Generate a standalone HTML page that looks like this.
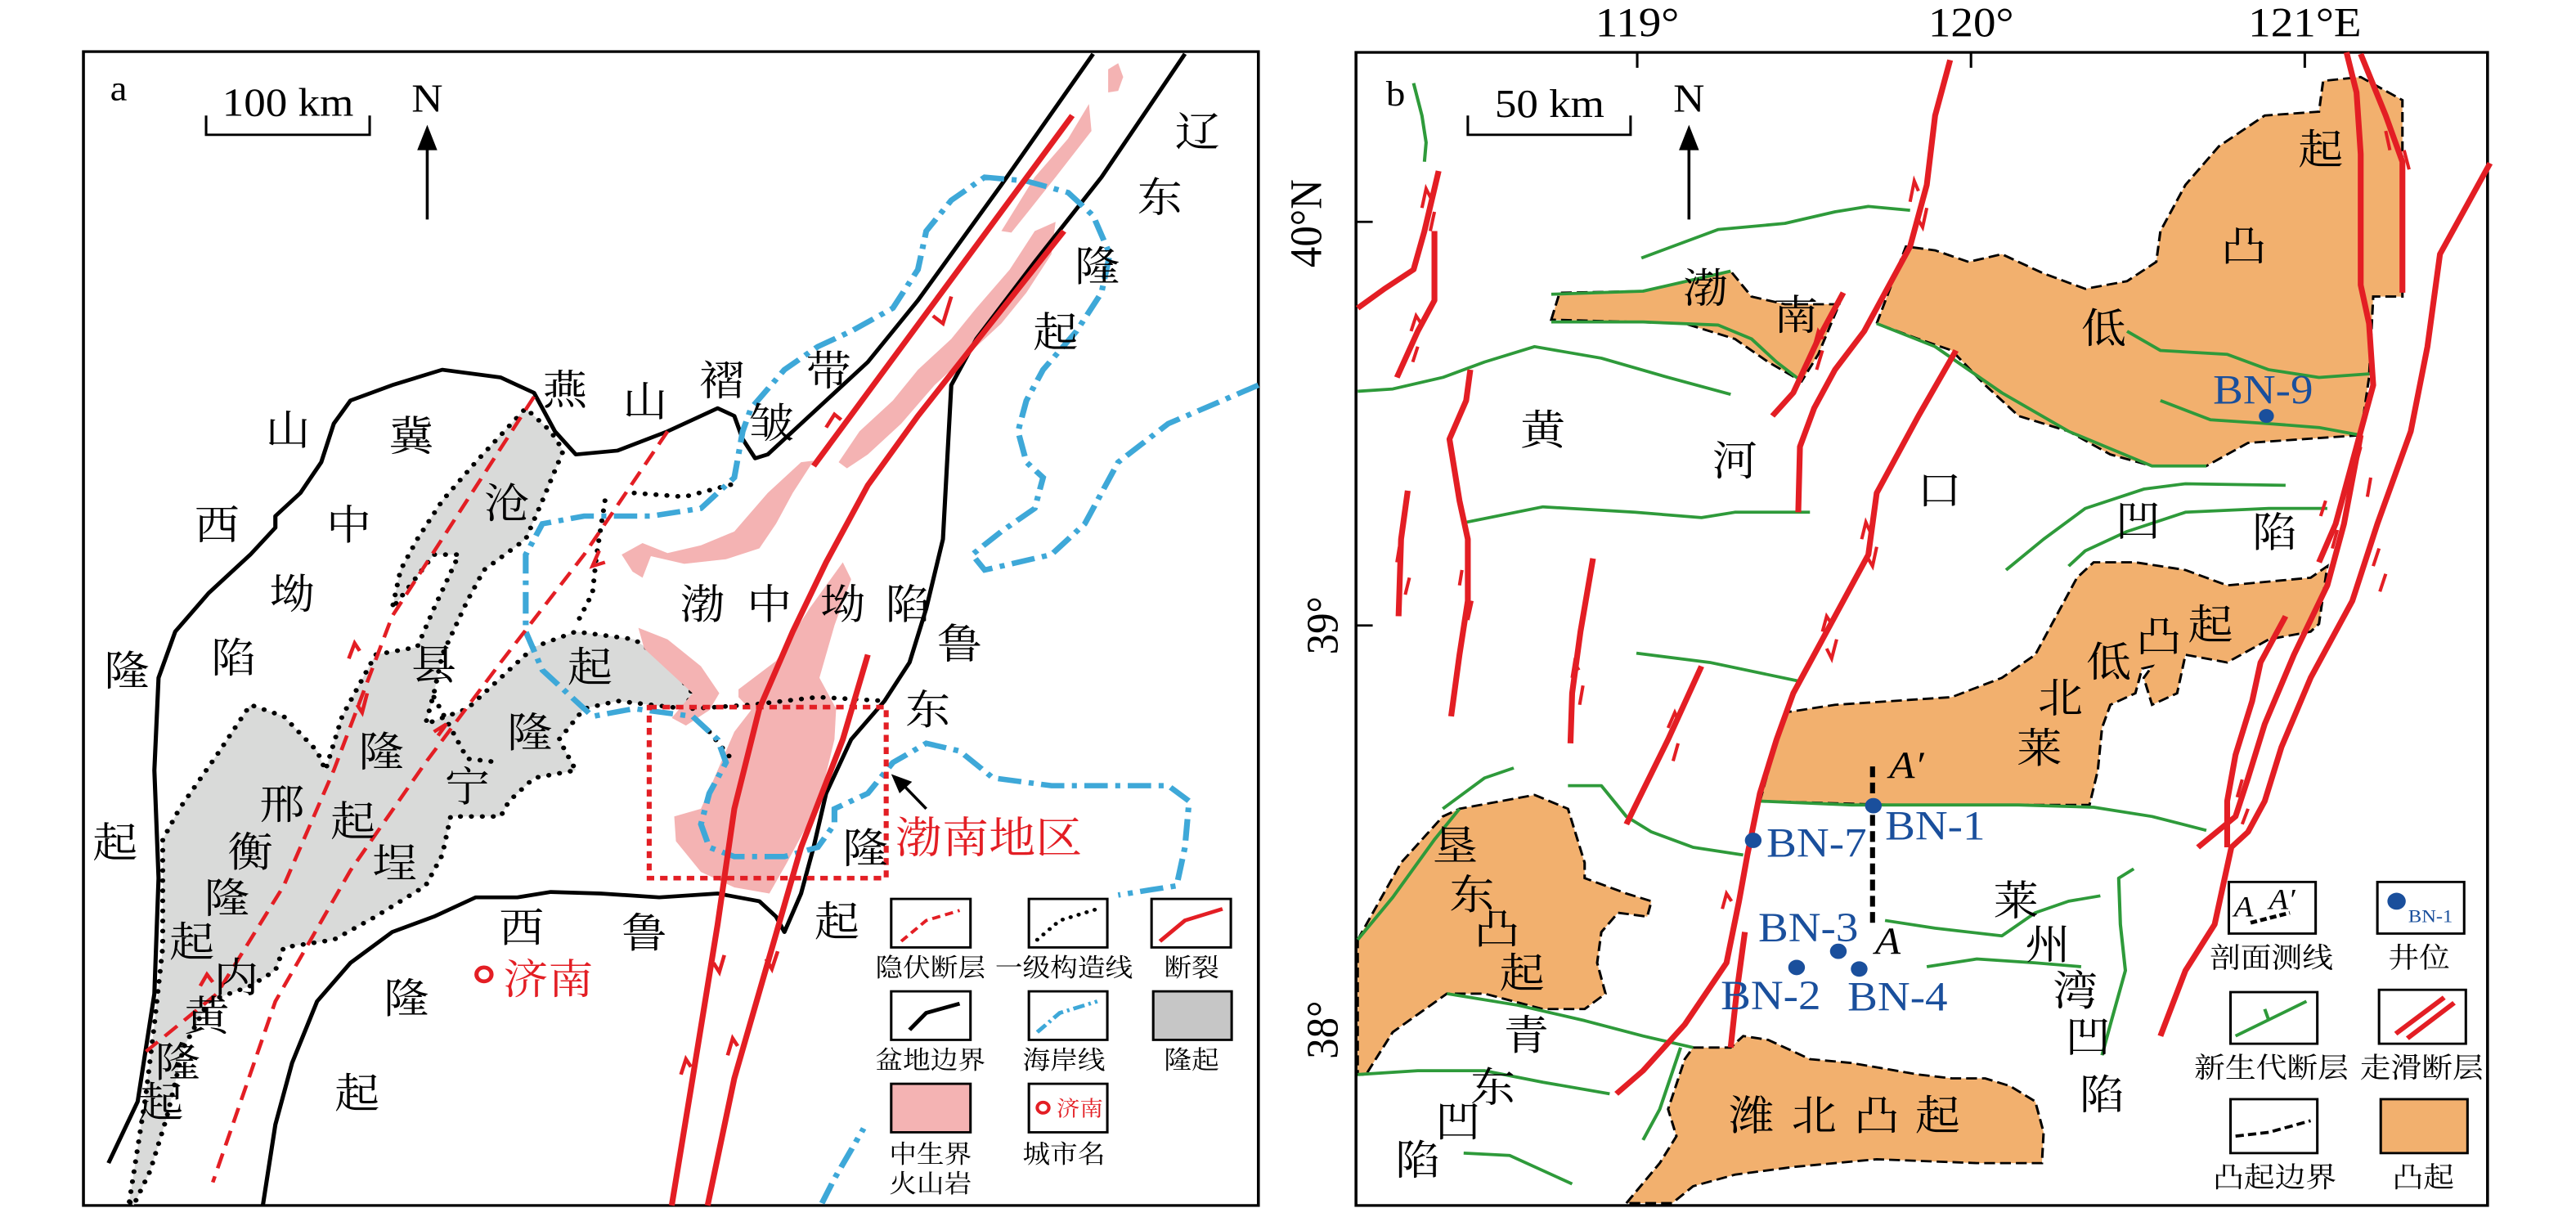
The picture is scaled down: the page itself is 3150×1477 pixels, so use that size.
<!DOCTYPE html>
<html><head><meta charset="utf-8"><style>
html,body{margin:0;padding:0;background:#fff;}
svg{display:block;}
text{font-family:"Liberation Serif","Noto Serif CJK SC","Noto Sans CJK SC",serif;}
</style></head><body>
<svg width="3150" height="1477" viewBox="0 0 3150 1477" xmlns="http://www.w3.org/2000/svg">
<rect width="3150" height="1477" fill="#fff"/>
<!-- PANEL A -->
<g transform="scale(1.0204,0.9418)">
<rect x="100" y="67" width="1408" height="1498" fill="none" stroke="#000" stroke-width="3.5"/>
<path d="M155,1560 L175,1420 L185,1330 L195,1230 L195,1090 L215,1050 L260,980 L300,915 L340,930 L380,975 L390,1000 L410,930 L450,850 L500,840 L520,790 L550,720 L520,720 L470,790 L480,740 L500,700 L530,650 L570,600 L630,530 L660,560 L675,585 L650,650 L630,700 L580,740 L560,780 L530,850 L520,900 L510,940 L560,920 L600,880 L640,840 L690,820 L760,830 L800,860 L830,900 L820,920 L740,910 L700,920 L670,960 L690,1000 L640,1010 L610,1040 L600,1060 L540,1060 L530,1110 L510,1150 L450,1190 L400,1220 L340,1230 L330,1260 L300,1280 L250,1300 L220,1360 L200,1450 L180,1520 L160,1565 Z" fill="#d9dad9" stroke="#000" stroke-width="6" stroke-dasharray="0.1,13" stroke-linecap="round"/>
<g fill="#f4b3b3">
<path d="M1328,90 L1340,82 L1346,100 L1340,118 L1328,120 Z"/>
<path d="M1200,300 L1240,230 L1280,180 L1305,135 L1308,170 L1265,230 L1232,275 L1212,302 Z"/>
<path d="M1005,600 L1030,560 L1070,520 L1100,480 L1140,440 L1170,400 L1210,350 L1240,300 L1265,288 L1260,330 L1230,380 L1200,420 L1160,460 L1120,500 L1080,550 L1040,590 L1015,608 Z"/>
<path d="M745,720 L770,705 L800,718 L840,708 L880,690 L920,640 L960,600 L975,598 L950,640 L930,680 L910,712 L870,726 L820,732 L780,722 L770,750 L758,742 Z"/>
<path d="M765,815 L800,830 L840,865 L862,900 L850,922 L822,942 L805,932 L830,900 L800,870 L772,842 Z"/>
<path d="M885,895 L930,858 L970,790 L1010,730 L1020,752 L1000,812 L982,880 L1002,920 L1000,960 L982,1040 L962,1082 L942,1122 L922,1160 L880,1152 L840,1132 L810,1092 L808,1060 L840,1050 L860,1000 L880,950 L900,922 L885,905 Z"/>
</g>
<g fill="none" stroke="#000" stroke-width="5" stroke-linejoin="round">
<path d="M130,1510 L165,1430 L185,1290 L190,1140 L185,1000 L190,880 L210,820 L250,770 L300,720 L330,685 L330,670 L360,640 L385,600 L400,550 L420,520 L470,500 L530,480 L600,490 L640,510 L665,560 L690,590 L740,585 L800,560 L860,530 L880,540 L890,570 L905,595 L920,590 L960,550 L1040,470 L1100,390 L1200,240 L1310,70"/>
<path d="M1420,70 L1320,230 L1240,340 L1170,440 L1140,500 L1135,600 L1130,700 L1110,790 L1090,860 L1060,910 L1020,960 L990,1030 L975,1100 L960,1160 L940,1210 L930,1190 L910,1170 L860,1160 L790,1165 L720,1160 L660,1158 L620,1165 L570,1165 L520,1190 L470,1210 L420,1250 L380,1300 L350,1380 L330,1460 L315,1565"/>
</g>
<g fill="none" stroke="#000" stroke-width="6" stroke-dasharray="0.1,13" stroke-linecap="round">
<path d="M760,640 L820,645 L880,628"/>
<path d="M725,650 L715,720 L710,770 L690,812"/>
<path d="M520,905 L560,985 L600,990"/>
<path d="M830,920 L900,915 L980,905 L1060,910"/>
<path d="M850,950 L880,990"/>
</g>
<g fill="none" stroke="#3ea8d8" stroke-width="7" stroke-dasharray="28,9,6,9">
<path d="M1508,500 L1400,550 L1340,600 L1300,680 L1260,720 L1180,740 L1165,720 L1200,690 L1240,660 L1250,620 L1230,600 L1220,560 L1230,520 L1250,480 L1290,430 L1320,380 L1330,330 L1310,280 L1280,250 L1230,235 L1180,230 L1140,260 L1110,300 L1100,350 L1070,400 L1020,430 L980,450 L940,480 L900,530 L890,560 L880,620 L840,660 L780,670 L700,670 L650,680 L630,720 L630,820 L650,870 L680,900 L710,930 L760,920 L830,930 L860,960 L870,990 L850,1030 L840,1070 L850,1100 L880,1112 L940,1112 L980,1100 L1000,1070 L1000,1050 L1040,1030 L1070,990 L1110,965 L1150,975 L1190,1010 L1260,1020 L1340,1020 L1400,1020 L1425,1040 L1420,1100 L1410,1150 L1380,1155 L1340,1162"/>
<path d="M985,1562 L1000,1530 L1035,1465"/>
</g>
<g fill="none" stroke="#e31e24" stroke-width="4.5" stroke-dasharray="20,11">
<path d="M640,515 L470,800 L400,1000 L340,1150 L260,1290 L175,1365"/>
<path d="M800,560 L700,720 L600,860 L510,990 L420,1130 L330,1300 L255,1535"/>
</g>
<g fill="none" stroke="#e31e24" stroke-width="7" stroke-linejoin="round">
<path d="M1285,150 L975,605"/>
<path d="M1275,300 L1180,430 L1100,540 L1040,630 L990,730 L950,820 L910,920 L880,1050 L860,1200 L830,1400 L805,1565"/>
<path d="M1040,850 L1010,960 L960,1100 L920,1250 L880,1400 L848,1565"/>
</g>
<g fill="none" stroke="#e31e24" stroke-width="4.5">
<path d="M1140,385 L1130,420 L1118,410"/><path d="M990,555 L1000,538 L1008,545"/>
<path d="M868,1240 L862,1262 L855,1250"/><path d="M932,1235 L925,1258 L918,1245"/>
<path d="M816,1395 L822,1375 L828,1385"/><path d="M872,1370 L878,1348 L884,1358"/>
<path d="M418,855 L425,835 L431,845"/><path d="M440,900 L434,925 L428,915"/>
<path d="M718,715 L710,735 L725,730"/><path d="M520,950 L535,940 L525,955"/>
<path d="M240,1280 L248,1265 L255,1275"/>
</g>
<rect x="778" y="918" width="284" height="222" fill="none" stroke="#e31e24" stroke-width="6" stroke-dasharray="9,7"/>
<line x1="1110" y1="1050" x2="1085" y2="1022" stroke="#000" stroke-width="3.5"/>
<polygon points="1068,1005 1093,1015 1078,1030" fill="#000"/>
<text x="132" y="130" font-size="46">a</text>
<path d="M247,150 L247,175 L443,175 L443,150" fill="none" stroke="#000" stroke-width="3"/>
<text x="345" y="150" font-size="52" text-anchor="middle">100 km</text>
<line x1="512" y1="285" x2="512" y2="190" stroke="#000" stroke-width="3.5"/>
<polygon points="512,162 500,195 524,195" fill="#000"/>
<text x="512" y="145" font-size="52" text-anchor="middle">N</text>
<g font-size="54" text-anchor="middle" fill="#000">
<text x="345" y="577">山</text><text x="493" y="585">冀</text><text x="677" y="525">燕</text><text x="773" y="540">山</text><text x="865" y="513">褶</text><text x="925" y="568">皱</text><text x="993" y="500">带</text>
<text x="1435" y="190">辽</text><text x="1390" y="275">东</text><text x="1315" y="365">隆</text><text x="1265" y="450">起</text>
<text x="260" y="700">西</text><text x="418" y="700">中</text><text x="350" y="790">坳</text><text x="280" y="873">陷</text><text x="152" y="890">隆</text><text x="138" y="1113">起</text>
<text x="607" y="672">沧</text><text x="520" y="882">县</text><text x="457" y="995">隆</text><text x="423" y="1085">起</text><text x="473" y="1140">埕</text>
<text x="707" y="885">起</text><text x="635" y="970">隆</text><text x="560" y="1040">宁</text>
<text x="338" y="1063">邢</text><text x="300" y="1125">衡</text><text x="272" y="1185">隆</text><text x="230" y="1242">起</text><text x="283" y="1288">内</text><text x="248" y="1338">黄</text><text x="213" y="1398">隆</text><text x="193" y="1450">起</text>
<text x="842" y="803">渤</text><text x="922" y="803">中</text><text x="1010" y="803">坳</text><text x="1088" y="803">陷</text>
<text x="1150" y="855">鲁</text><text x="1112" y="940">东</text><text x="1037" y="1120">隆</text><text x="1003" y="1215">起</text>
<text x="625" y="1223">西</text><text x="772" y="1230">鲁</text><text x="487" y="1315">隆</text><text x="428" y="1438">起</text>
</g>
<circle cx="580" cy="1265" r="9" fill="none" stroke="#e31e24" stroke-width="5"/>
<text x="603" y="1290" font-size="54" fill="#e31e24">济南</text>
<text x="1073" y="1107" font-size="56" fill="#e31e24">渤南地区</text>
<g fill="none" stroke="#000" stroke-width="3">
<rect x="1068" y="1167" width="95" height="63"/><rect x="1233" y="1167" width="94" height="63"/><rect x="1380" y="1167" width="95" height="63"/>
<rect x="1068" y="1287" width="95" height="63"/><rect x="1233" y="1287" width="94" height="63"/>
<rect x="1233" y="1407" width="94" height="63"/>
</g>
<rect x="1382" y="1287" width="94" height="63" fill="#c6c6c6" stroke="#000" stroke-width="3"/>
<rect x="1068" y="1407" width="95" height="63" fill="#f4b3b3" stroke="#000" stroke-width="3"/>
<path d="M1080,1222 L1110,1195 L1150,1182" fill="none" stroke="#e31e24" stroke-width="4" stroke-dasharray="10,6"/>
<path d="M1243,1220 L1270,1195 L1315,1180" fill="none" stroke="#000" stroke-width="5" stroke-dasharray="0.1,10" stroke-linecap="round"/>
<path d="M1390,1222 L1420,1195 L1465,1180" fill="none" stroke="#e31e24" stroke-width="5"/>
<path d="M1090,1337 L1110,1315 L1150,1303" fill="none" stroke="#000" stroke-width="5"/>
<path d="M1243,1340 L1270,1315 L1315,1300" fill="none" stroke="#3ea8d8" stroke-width="5" stroke-dasharray="14,5,3,5"/>
<circle cx="1250" cy="1438" r="7" fill="none" stroke="#e31e24" stroke-width="4"/>
<text x="1266" y="1449" font-size="28" fill="#e31e24">济南</text>
<g font-size="33" text-anchor="middle" fill="#000">
<text x="1115" y="1268">隐伏断层</text><text x="1275" y="1268">一级构造线</text><text x="1428" y="1268">断裂</text>
<text x="1115" y="1388">盆地边界</text><text x="1275" y="1388">海岸线</text><text x="1428" y="1388">隆起</text>
<text x="1115" y="1510">中生界</text><text x="1115" y="1548">火山岩</text><text x="1275" y="1510">城市名</text>
</g>
</g>

<!-- PANEL B -->
<g transform="translate(1550,0) scale(1.0204,0.9418)">
<rect x="106" y="68" width="1356" height="1497" fill="none" stroke="#000" stroke-width="3.5"/>
<g stroke="#000" stroke-width="3"><line x1="443" y1="68" x2="443" y2="88"/><line x1="843" y1="68" x2="843" y2="88"/><line x1="1243" y1="68" x2="1243" y2="88"/>
<line x1="106" y1="288" x2="126" y2="288"/><line x1="106" y1="812" x2="126" y2="812"/><line x1="106" y1="1337" x2="126" y2="1337"/></g>
<g font-size="54" text-anchor="middle"><text x="443" y="47">119°</text><text x="843" y="47">120°</text><text x="1243" y="47">121°E</text></g>
<text transform="translate(64,290) rotate(-90)" font-size="54" text-anchor="middle">40°N</text>
<text transform="translate(84,812) rotate(-90)" font-size="54" text-anchor="middle">39°</text>
<text transform="translate(84,1337) rotate(-90)" font-size="54" text-anchor="middle">38°</text>
<g fill="#f2b06e" stroke="#000" stroke-width="3" stroke-dasharray="13,6">
<path d="M340,415 L350,380 L450,378 L555,352 L580,385 L620,395 L685,395 L660,460 L640,495 L600,470 L560,440 L500,420 L440,418 Z"/>
<path d="M730,420 L765,320 L800,325 L840,340 L880,330 L930,355 L980,375 L1030,365 L1065,340 L1070,300 L1100,240 L1140,190 L1195,150 L1260,145 L1265,105 L1310,100 L1360,130 L1360,385 L1325,385 L1320,490 L1310,565 L1175,575 L1125,605 L1060,605 L1010,590 L960,560 L900,540 L860,500 L820,455 L780,440 Z"/>
<path d="M590,1040 L620,925 L680,915 L820,905 L880,880 L920,850 L945,800 L970,750 L990,730 L1040,730 L1100,740 L1150,760 L1250,750 L1270,735 L1260,810 L1250,820 L1200,830 L1150,860 L1100,850 L1090,900 L1060,915 L1050,880 L1060,865 L1048,868 L1040,900 L1010,915 L1000,945 L995,1000 L985,1045 L900,1045 L750,1045 Z"/>
<path d="M108,1220 L160,1120 L210,1060 L230,1050 L320,1032 L360,1050 L380,1120 L380,1140 L430,1160 L460,1170 L455,1190 L420,1185 L400,1210 L395,1250 L405,1290 L380,1310 L330,1310 L260,1290 L215,1290 L150,1340 L118,1395 L108,1395 Z"/>
<path d="M430,1562 L470,1510 L490,1475 L480,1440 L500,1375 L510,1360 L555,1360 L570,1345 L600,1350 L650,1375 L700,1380 L780,1395 L820,1400 L860,1400 L890,1410 L920,1430 L930,1470 L928,1510 L850,1510 L730,1505 L630,1515 L560,1525 L510,1540 L485,1562 Z"/>
</g>
<g fill="none" stroke="#2e9a3a" stroke-width="4" stroke-linejoin="round">
<path d="M108,508 L150,505 L210,490 L260,470 L320,450 L400,465 L480,490 L555,512"/>
<path d="M340,382 L450,378 L555,352"/>
<path d="M340,418 L450,418 L540,422 L580,440 L610,470 L640,495"/>
<path d="M448,335 L540,298 L620,290 L680,275 L720,268 L770,273"/>
<path d="M730,420 L800,450 L840,480 L880,510 L960,560 L1060,605 L1125,605"/>
<path d="M1030,430 L1070,455 L1150,460 L1200,480 L1260,490 L1325,485"/>
<path d="M1070,520 L1130,545 L1200,550 L1260,555 L1310,565"/>
<path d="M238,678 L330,658 L440,665 L520,672 L560,665 L650,665"/>
<path d="M885,740 L930,700 L980,660 L1050,635 L1100,628 L1220,630"/>
<path d="M960,735 L980,715 L1030,690 L1100,665 L1200,660 L1270,660"/>
<path d="M442,848 L530,860 L640,885"/>
<path d="M210,1050 L260,1010 L295,997"/>
<path d="M108,1220 L150,1165 L200,1090 L230,1050"/>
<path d="M360,1020 L400,1020 L430,1060 L460,1080 L510,1100 L570,1110"/>
<path d="M590,1040 L700,1045 L800,1045 L900,1045 L990,1048 L1060,1060 L1125,1078"/>
<path d="M108,1395 L180,1390 L260,1390 L330,1405 L410,1420"/>
<path d="M215,1290 L300,1305 L380,1325 L450,1345 L510,1360"/>
<path d="M740,1195 L800,1205 L880,1215 L920,1185 L960,1170 L998,1163"/>
<path d="M790,1255 L850,1245 L920,1250 L975,1255"/>
<path d="M1038,1128 L1020,1140 L1022,1200 L1028,1260 L1010,1330 L1000,1370"/>
<path d="M175,108 L185,150 L190,185 L188,210"/>
<path d="M495,1360 L470,1440 L450,1480"/>
<path d="M235,1497 L290,1500 L365,1537"/>
</g>
<g fill="none" stroke="#e31e24" stroke-width="7" stroke-linejoin="round">
<path d="M818,78 L800,150 L790,240 L770,320 L750,360 L715,430 L680,480 L655,530 L638,580 L636,665"/>
<path d="M825,455 L780,540 L730,640 L720,720 L700,760 L660,840 L630,900 L610,960 L590,1030 L575,1110 L565,1170 L550,1250 L500,1330 L450,1390 L418,1420"/>
<path d="M690,380 L660,440 L630,510 L605,540"/>
<path d="M520,865 L480,960 L430,1070"/>
<path d="M390,725 L375,820 L365,900 L363,965"/>
<path d="M168,637 L160,700 L157,800"/>
<path d="M205,222 L188,300 L175,350 L140,375 L108,400"/>
<path d="M200,300 L200,390 L180,430 L155,490"/>
<path d="M243,480 L238,520 L218,570 L230,650 L240,700 L240,780 L230,850 L220,930"/>
<path d="M1293,68 L1305,120 L1310,200 L1310,370 L1320,420 L1325,500 L1300,600 L1280,680 L1260,730"/>
<path d="M1310,70 L1340,150 L1360,210 L1360,380"/>
<path d="M1465,212 L1405,330 L1390,450 L1370,560 L1330,680 L1300,780 L1250,880 L1215,970 L1195,1040 L1175,1080 L1155,1100 L1145,1150 L1135,1200 L1100,1260 L1070,1345"/>
<path d="M1310,565 L1290,680 L1270,760 L1230,850 L1195,940 L1175,1010 L1160,1060 L1115,1100"/>
<path d="M1220,800 L1190,860 L1180,910 L1160,980 L1150,1040 L1150,1100"/>
<path d="M572,1210 L562,1290 L555,1360"/>
</g>
<g fill="none" stroke="#e31e24" stroke-width="4">
<path d="M770,262 L775,235 L780,248"/><path d="M790,270 L785,295 L778,282"/>
<path d="M185,270 L190,245 L196,258"/><path d="M200,275 L195,300"/>
<path d="M172,430 L178,410 L184,420"/><path d="M180,450 L174,470"/>
<path d="M655,450 L660,430 L666,440"/><path d="M665,455 L658,480"/>
<path d="M712,700 L717,678 L722,690"/><path d="M730,710 L725,735 L718,722"/>
<path d="M665,820 L670,800 L676,810"/><path d="M682,830 L676,855 L670,842"/>
<path d="M365,880 L368,860 L373,870"/><path d="M378,890 L374,915"/>
<path d="M155,730 L158,710"/><path d="M170,750 L165,772"/>
<path d="M230,760 L233,740"/><path d="M245,780 L240,805"/>
<path d="M480,945 L488,925 L492,935"/><path d="M492,965 L486,988"/>
<path d="M545,1180 L550,1160 L556,1170"/><path d="M568,1235 L572,1215"/>
<path d="M1340,170 L1345,195"/><path d="M1362,195 L1368,220"/>
<path d="M1305,600 L1310,580"/><path d="M1322,620 L1318,645"/>
<path d="M1262,670 L1268,650"/><path d="M1282,688 L1276,712"/>
<path d="M1325,735 L1332,712"/><path d="M1340,745 L1333,768"/>
<path d="M1162,1035 L1168,1012"/><path d="M1175,1050 L1168,1070"/>
</g>
<line x1="725" y1="995" x2="725" y2="1200" stroke="#000" stroke-width="6" stroke-dasharray="14,7"/>
<g fill="#1a4f9c">
<circle cx="726" cy="1046" r="10"/><circle cx="582" cy="1091" r="10"/><circle cx="634" cy="1256" r="10"/><circle cx="684" cy="1235" r="10"/><circle cx="709" cy="1258" r="10"/><circle cx="1197" cy="540" r="9"/>
</g>
<g font-size="54" fill="#1a4f9c">
<text x="740" y="1090">BN-1</text><text x="598" y="1112">BN-7</text><text x="588" y="1222">BN-3</text><text x="543" y="1310">BN-2</text><text x="695" y="1312">BN-4</text><text x="1133" y="524">BN-9</text>
</g>
<text x="745" y="1010" font-size="50" font-style="italic">A′</text>
<text x="728" y="1238" font-size="50" font-style="italic">A</text>
<text x="142" y="137" font-size="46">b</text>
<path d="M240,150 L240,175 L435,175 L435,150" fill="none" stroke="#000" stroke-width="3"/>
<text x="338" y="152" font-size="52" text-anchor="middle">50 km</text>
<line x1="505" y1="285" x2="505" y2="190" stroke="#000" stroke-width="3.5"/>
<polygon points="505,162 493,195 517,195" fill="#000"/>
<text x="505" y="145" font-size="52" text-anchor="middle">N</text>
<g font-size="54" text-anchor="middle" fill="#000">
<text x="525" y="393">渤</text><text x="633" y="428">南</text><text x="330" y="577">黄</text><text x="560" y="617">河</text><text x="805" y="655">口</text>
<text x="1002" y="445">低</text><text x="1170" y="338">凸</text><text x="1262" y="213">起</text><text x="1043" y="695">凹</text><text x="1207" y="710">陷</text>
<text x="1130" y="830">起</text><text x="1068" y="845">凸</text><text x="1008" y="878">低</text><text x="950" y="925">北</text><text x="925" y="990">莱</text>
<text x="225" y="1117">垦</text><text x="245" y="1180">东</text><text x="275" y="1225">凸</text><text x="305" y="1282">起</text>
<text x="310" y="1363">青</text><text x="270" y="1430">东</text><text x="228" y="1475">凹</text><text x="180" y="1525">陷</text>
<text x="897" y="1188">莱</text><text x="935" y="1245">州</text><text x="968" y="1305">湾</text><text x="983" y="1365">凹</text><text x="1000" y="1440">陷</text>
<text x="580" y="1467">潍</text><text x="655" y="1467">北</text><text x="730" y="1467">凸</text><text x="803" y="1467">起</text>
</g>
<g fill="none" stroke="#000" stroke-width="3">
<rect x="1152" y="1145" width="104" height="67"/><rect x="1330" y="1145" width="104" height="67"/>
<rect x="1154" y="1288" width="104" height="67"/><rect x="1332" y="1285" width="104" height="70"/>
<rect x="1154" y="1427" width="104" height="70"/>
</g>
<rect x="1334" y="1427" width="104" height="70" fill="#f2b06e" stroke="#000" stroke-width="3"/>
<text x="1158" y="1190" font-size="38" font-style="italic">A</text><text x="1200" y="1180" font-size="38" font-style="italic">A′</text>
<path d="M1178,1198 L1225,1185" stroke="#000" stroke-width="5" stroke-dasharray="8,4"/>
<circle cx="1353" cy="1170" r="11" fill="#1a4f9c"/><text x="1367" y="1197" font-size="24" fill="#1a4f9c">BN-1</text>
<path d="M1160,1345 L1245,1300" stroke="#2e9a3a" stroke-width="4"/><path d="M1200,1325 L1195,1310" stroke="#2e9a3a" stroke-width="4"/>
<path d="M1352,1342 L1410,1295 M1366,1348 L1422,1302" stroke="#e31e24" stroke-width="6"/>
<path d="M1160,1475 L1200,1470 L1250,1455" fill="none" stroke="#000" stroke-width="4" stroke-dasharray="10,5"/>
<g font-size="37" text-anchor="middle" fill="#000">
<text x="1203" y="1256">剖面测线</text><text x="1380" y="1256">井位</text>
<text x="1203" y="1399">新生代断层</text><text x="1383" y="1399">走滑断层</text>
<text x="1207" y="1541">凸起边界</text><text x="1385" y="1541">凸起</text>
</g>
</g>
</svg>
</body></html>
